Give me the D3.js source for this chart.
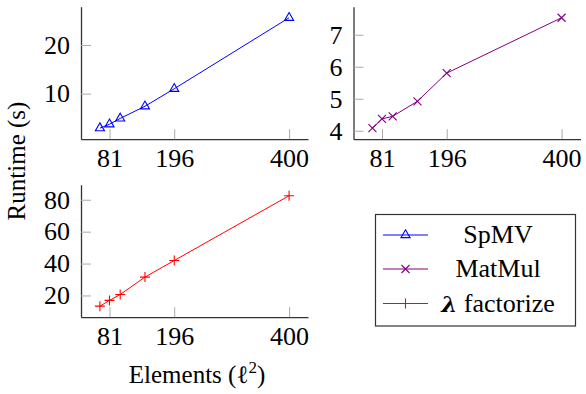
<html>
<head>
<meta charset="utf-8">
<title>Runtime</title>
<style>
  body { margin: 0; background: #fff; }
</style>
</head>
<body>
<script src="https://cdn.jsdelivr.net/npm/d3@7"></script>
<script>
// data
var elements  = [64, 81, 100, 144, 196, 400];
var spmv      = [2.9, 3.7, 4.9, 7.4, 11.0, 25.6];
var matmul    = [4.08, 4.37, 4.45, 4.92, 5.80, 7.53];
var factorize = [13.3, 16.9, 20.6, 31.5, 41.9, 82.5];
var xTicks    = [81, 196, 400];
var spmvTicks = [10, 20];
var matTicks  = [4, 5, 6, 7];
var facTicks  = [20, 40, 60, 80];
var names     = ["SpMV", "MatMul", "factorize"];
var colors    = ["#0000ff", "#800080", "#ff0000"];

var width = 586, height = 394;
var serif = "'Liberation Serif'";
var svg = d3.select("body").append("svg")
    .attr("width", width)
    .attr("height", height)
    .style("font-family", serif);

// 10% enlargement like pgfplots
function padded(vals) {
    var e = d3.extent(vals), p = (e[1] - e[0]) * 0.1;
    return [e[0] - p, e[1] + p];
}

var pw = 227, ph = 132.5;
var panels = [
    { x: 81,    y: 6.7,   vals: spmv,      ticks: spmvTicks, mark: "tri",   color: colors[0] },
    { x: 353.5, y: 6.7,   vals: matmul,    ticks: matTicks,  mark: "cross", color: colors[1] },
    { x: 81,    y: 184.7, vals: factorize, ticks: facTicks,  mark: "plus",  color: colors[2] }
];

function drawMark(g, kind, color, cx, cy) {
    if (kind == "tri") {
        g.append("path")
            .attr("d", d3.symbol().type(d3.symbolTriangle).size(36)())
            .attr("transform", "translate(" + cx + "," + cy + ")")
            .attr("fill", "none").attr("stroke", color).attr("stroke-width", 1.1);
    } else if (kind == "cross") {
        var r = 4;
        g.append("path")
            .attr("d", "M" + (cx - r) + "," + (cy - r) + "L" + (cx + r) + "," + (cy + r) +
                       "M" + (cx - r) + "," + (cy + r) + "L" + (cx + r) + "," + (cy - r))
            .attr("stroke", color).attr("stroke-width", 1.1);
    } else {
        var r = 5;
        g.append("path")
            .attr("d", "M" + (cx - r) + "," + cy + "L" + (cx + r) + "," + cy +
                       "M" + cx + "," + (cy - r) + "L" + cx + "," + (cy + r))
            .attr("stroke", color).attr("stroke-width", 1.1);
    }
}

panels.forEach(function (p) {
    var g = svg.append("g").attr("transform", "translate(" + p.x + "," + p.y + ")");

    var x = d3.scaleLinear().domain(padded(elements)).range([0, pw]);
    var y = d3.scaleLinear().domain(padded(p.vals)).range([ph, 0]);

    var xa = g.append("g").attr("transform", "translate(0," + ph + ")")
        .call(d3.axisBottom(x).tickValues(xTicks).tickFormat(d3.format("d"))
            .tickSizeInner(-10).tickSizeOuter(0).tickPadding(9));
    var ya = g.append("g")
        .call(d3.axisLeft(y).tickValues(p.ticks).tickFormat(d3.format("d"))
            .tickSizeInner(-10).tickSizeOuter(0).tickPadding(11));

    [xa, ya].forEach(function (a) {
        a.attr("font-family", null).attr("font-size", null);
        a.select(".domain").attr("stroke", "#333").attr("stroke-width", 1.3);
        a.selectAll(".tick line").attr("stroke", "#aaa").attr("stroke-width", 1);
        a.selectAll(".tick text")
            .style("font-family", serif)
            .style("font-size", "26px")
            .attr("fill", "#000");
    });

    var line = d3.line()
        .x(function (d, i) { return x(elements[i]); })
        .y(function (d) { return y(d); });

    g.append("path")
        .datum(p.vals)
        .attr("d", line)
        .attr("fill", "none")
        .attr("stroke", p.color)
        .attr("stroke-width", 1);

    p.vals.forEach(function (v, i) {
        drawMark(g, p.mark, p.color, x(elements[i]), y(v));
    });
});

// axis labels
svg.append("text")
    .attr("transform", "translate(25,161) rotate(-90)")
    .attr("text-anchor", "middle")
    .style("font-size", "25px")
    .text("Runtime (s)");

var xl = svg.append("text")
    .attr("x", 197).attr("y", 383)
    .attr("text-anchor", "middle")
    .style("font-size", "25px");
xl.append("tspan").text("Elements (");
xl.append("tspan").text("ℓ");
xl.append("tspan").style("font-size", "17px").attr("dy", -10).text("2");
xl.append("tspan").attr("dy", 10).text(")");

// legend
var lg = svg.append("g");
lg.append("rect")
    .attr("x", 375.5).attr("y", 214.5)
    .attr("width", 200).attr("height", 111.5)
    .attr("fill", "#fff").attr("stroke", "#333").attr("stroke-width", 1.2);

var rowY = [235, 269, 303.5];
var marks = ["tri", "cross", "plus"];
names.forEach(function (n, i) {
    lg.append("line")
        .attr("x1", 383).attr("x2", 428)
        .attr("y1", rowY[i]).attr("y2", rowY[i])
        .attr("stroke", colors[i]).attr("stroke-width", 1);
    drawMark(lg, marks[i], colors[i], 405.5, rowY[i]);
    var t = lg.append("text")
        .attr("x", 498).attr("y", rowY[i] + 8)
        .attr("text-anchor", "middle")
        .style("font-size", "26px");
    if (i == 2) {
        t.append("tspan")
            .style("font-family", "'DejaVu Serif'")
            .style("font-weight", "bold")
            .style("font-style", "italic")
            .style("font-size", "23px")
            .text("λ");
        t.append("tspan").text(" " + n);
    } else {
        t.text(n);
    }
});
</script>
</body>
</html>
